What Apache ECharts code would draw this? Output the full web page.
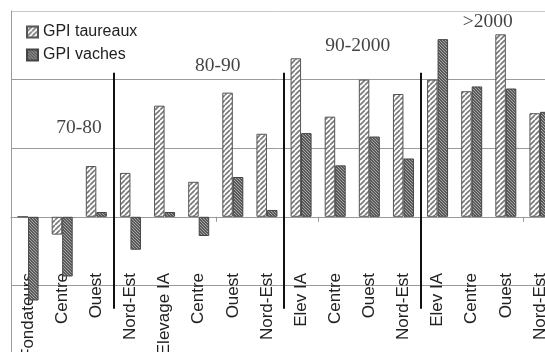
<!DOCTYPE html>
<html>
<head>
<meta charset="utf-8">
<script src="https://cdn.jsdelivr.net/npm/echarts@6/dist/echarts.min.js"></script>
<style>
html,body{margin:0;padding:0;background:#fff;}
#c{width:545px;height:352px;}
</style>
</head>
<body>
<div id="c"></div>
<script>
// ---- data ----
var categories = ['Fondateurs','Centre','Ouest','Nord-Est','Elevage IA','Centre','Ouest','Nord-Est','Elev IA','Centre','Ouest','Nord-Est','Elev IA','Centre','Ouest','Nord-Est'];
var taureaux = [0, -2.6, 7.4, 6.4, 16.2, 5.1, 18.1, 12.1, 23.1, 14.6, 20.0, 17.9, 20.0, 18.3, 26.6, 15.1];
var vaches = [-12.2, -8.7, 0.7, -4.8, 0.7, -2.8, 5.8, 1.0, 12.2, 7.5, 11.7, 8.5, 25.9, 19.0, 18.7, 15.3];
var groupLabels = ['70-80', '80-90', '90-2000', '>2000'];
var groupBoundaries = [3, 8, 12];

// ---- annotation placement (layout, in axis units) ----
var groupLabelAnchors = [[1.99, 13.0], [6.06, 22.0], [10.16, 24.9], [13.97, 28.4]];
var sepTop = 21, sepBottom = -13.4;

function makePattern(bg, fg, size, lw, dir) {
  var cv = document.createElement('canvas');
  cv.width = size; cv.height = size;
  var ctx = cv.getContext('2d');
  ctx.fillStyle = bg; ctx.fillRect(0, 0, size, size);
  ctx.strokeStyle = fg; ctx.lineWidth = lw;
  ctx.beginPath();
  if (dir === '/') {
    for (var k = -1; k <= 1; k++) {
      ctx.moveTo(k * size, size); ctx.lineTo(k * size + size, 0);
    }
  } else {
    for (var k2 = -1; k2 <= 1; k2++) {
      ctx.moveTo(k2 * size, 0); ctx.lineTo(k2 * size + size, size);
    }
  }
  ctx.stroke();
  return cv;
}
var patT = makePattern('#ffffff', '#7a7a7a', 5, 1.7, '/');
var patV = makePattern('#5a5a5a', '#b0b0b0', 3, 0.9, '\\');

var chart = echarts.init(document.getElementById('c'), null, {renderer: 'canvas'});

var labelData = groupLabels.map(function (t, i) {
  return [groupLabelAnchors[i][0], groupLabelAnchors[i][1], t];
});
var sepLines = groupBoundaries.map(function (b) {
  return [{coord: [b, sepTop]}, {coord: [b, sepBottom]}];
});

var sansFamily = 'Liberation Sans, Arial, sans-serif';

var option = {
  animation: false,
  backgroundColor: '#fff',
  legend: {
    orient: 'vertical',
    left: 21, top: 19,
    itemWidth: 11, itemHeight: 11, itemGap: 7,
    icon: 'rect',
    textStyle: {fontFamily: sansFamily, fontSize: 16, color: '#222'},
    data: ['GPI taureaux', 'GPI vaches']
  },
  grid: {left: 11, top: 11, width: 546, height: 343, containLabel: false, outerBoundsMode: 'none'},
  xAxis: [{
    type: 'category',
    data: categories,
    axisLine: {onZero: true, lineStyle: {color: '#9a9a9a', width: 1}},
    axisTick: {show: true, length: 5, lineStyle: {color: '#9a9a9a'}},
    axisLabel: {show: false},
    splitLine: {show: false}
  }, {
    type: 'value', min: 0, max: 16, show: false, gridIndex: 0
  }, {
    type: 'category',
    data: categories,
    position: 'bottom',
    axisLine: {show: false, onZero: false},
    axisTick: {show: false},
    axisLabel: {show: true, interval: 0, rotate: 90, margin: -81,
      fontFamily: sansFamily, fontSize: 17, color: '#222'},
    splitLine: {show: false}
  }],
  yAxis: {
    type: 'value', min: -20, max: 30, interval: 10,
    axisLabel: {show: false},
    axisTick: {show: false},
    axisLine: {show: true, onZero: false, lineStyle: {color: '#9a9a9a'}},
    splitLine: {show: true, lineStyle: {color: ['#9a9a9a', '#9a9a9a', '#9a9a9a', '#9a9a9a', '#9a9a9a', '#c8c8c8'], width: 1}}
  },
  series: [{
    name: 'GPI taureaux', type: 'bar', data: taureaux,
    barWidth: 10.5, barGap: '0%',
    itemStyle: {color: {image: patT, repeat: 'repeat'}, borderColor: '#555', borderWidth: 1}
  }, {
    name: 'GPI vaches', type: 'bar', data: vaches,
    barWidth: 10.5, barGap: '0%',
    itemStyle: {color: {image: patV, repeat: 'repeat'}, borderColor: '#444', borderWidth: 1}
  }, {
    name: 'groups', type: 'scatter', xAxisIndex: 1, yAxisIndex: 0,
    data: labelData, symbolSize: 0, silent: true,
    label: {
      show: true, position: 'inside',
      formatter: function (p) { return p.data[2]; },
      fontFamily: 'Liberation Serif, Times New Roman, serif', fontSize: 19.5, color: '#111'
    },
    markLine: {
      silent: true, symbol: 'none', label: {show: false},
      lineStyle: {color: '#111', width: 2, type: 'solid'},
      data: sepLines
    }
  }]
};
chart.setOption(option);
</script>
</body>
</html>
